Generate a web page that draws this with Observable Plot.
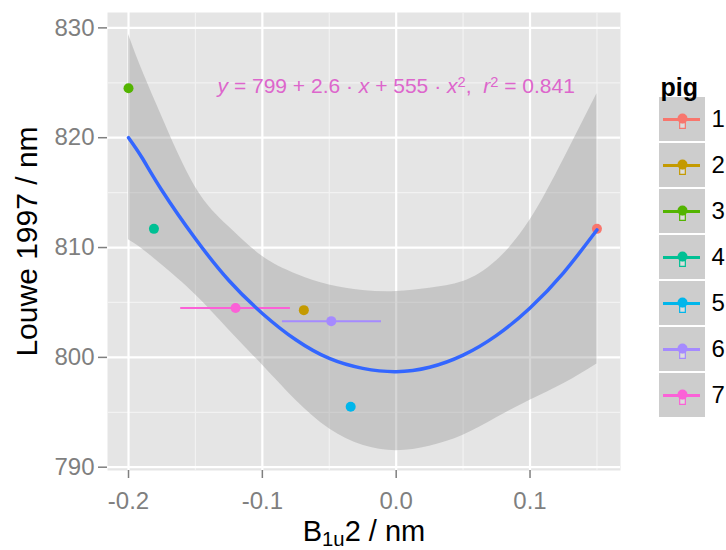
<!DOCTYPE html>
<html><head><meta charset="utf-8">
<script src="https://cdn.jsdelivr.net/npm/d3@7"></script>
<script src="https://cdn.jsdelivr.net/npm/@observablehq/plot@0.6"></script>
<style>
body{margin:0;background:#fff;}
#wrap{position:relative;width:726px;height:550px;}
#legend{position:absolute;left:655px;top:56px;}
</style></head><body><div id="wrap"><div id="legend"></div></div>
<script>
// ---- data ----
const pigs = ["1","2","3","4","5","6","7"];
const pigColors = ["#F8766D","#C49A00","#53B400","#00C094","#00B6EB","#A58AFF","#FB61D7"];
const pigX = [0.15, -0.069, -0.2, -0.181, -0.034, -0.0485, -0.120];
const pigY = [811.7, 804.3, 824.5, 811.7, 795.5, 803.3, 804.5];
const errPigs = ["6","7"];
const errMin = [-0.085, -0.161];
const errMax = [-0.011, -0.079];
const fitX  = [-0.2, -0.19, -0.175, -0.15, -0.125, -0.1, -0.075, -0.05, -0.025, 0, 0.025, 0.05, 0.075, 0.1, 0.125, 0.15];
const fitY  = [820.0, 818.2, 815.2, 810.8, 807.0, 804.0, 801.6, 799.9, 799.0, 798.7, 799.1, 800.2, 802.0, 804.5, 807.7, 811.6];
const fitLo = [810.7, 809.9, 808.4, 805.7, 802.5, 799.3, 796.1, 793.5, 792.0, 791.5, 791.9, 792.9, 794.5, 796.1, 797.6, 799.4];
const fitHi = [829.4, 826.2, 821.9, 815.5, 811.9, 809.2, 807.6, 806.6, 806.1, 806.0, 806.3, 806.9, 808.8, 812.5, 818.0, 824.0];
const xTicks = [-0.2, -0.1, 0, 0.1];
const xTickLabels = ["-0.2", "-0.1", "0.0", "0.1"];
const xMinor = [-0.15, -0.05, 0.05, 0.15];
const yTicks = [790, 800, 810, 820, 830];
const yTickLabels = ["790", "800", "810", "820", "830"];
const yMinor = [795, 805, 815, 825];
const xTitle = "B1u2 / nm";
const yTitle = "Louwe 1997 / nm";
const legendTitle = "pig";
const eqText = "y = 799 + 2.6 · x + 555 · x2,  r2 = 0.841";
const eqPos = [0, 824.7];

// ---- tables ----
const points = pigs.map((p, i) => ({pig: p, x: pigX[i], y: pigY[i]}));
const bars = errPigs.map((p, i) => ({pig: p, y: pigY[pigs.indexOf(p)], x1: errMin[i], x2: errMax[i]}));
const fit = fitX.map((x, i) => ({x, y: fitY[i], lo: fitLo[i], hi: fitHi[i]}));
const FONT = '"Liberation Sans", Arial, Helvetica, sans-serif';
const color = {domain: pigs, range: pigColors};

const main = Plot.plot({
  width: 726, height: 550,
  marginLeft: 107, marginRight: 106, marginTop: 12, marginBottom: 80,
  x: {domain: [-0.2157, 0.1676]},
  y: {domain: [789.7, 831.4]},
  color,
  style: {fontFamily: FONT, background: "white", color: "black"},
  marks: [
    Plot.frame({fill: "#E5E5E5"}),
    Plot.ruleX(xMinor, {stroke: "#F2F2F2", strokeWidth: 1.2}),
    Plot.ruleY(yMinor, {stroke: "#F2F2F2", strokeWidth: 1.2}),
    Plot.ruleX(xTicks, {stroke: "#FFFFFF", strokeWidth: 2.2}),
    Plot.ruleY(yTicks, {stroke: "#FFFFFF", strokeWidth: 2.2}),
    Plot.areaY(fit, {x: "x", y1: "lo", y2: "hi", fill: "#999999", fillOpacity: 0.4, curve: "natural"}),
    Plot.ruleY(bars, {y: "y", x1: "x1", x2: "x2", stroke: "pig", strokeWidth: 2}),
    Plot.dot(points, {x: "x", y: "y", fill: "pig", r: 5}),
    Plot.line(fit, {x: "x", y: "y", stroke: "#3366FF", strokeWidth: 3.5, curve: "natural"}),
    Plot.axisX({ticks: xTicks, tickFormat: d => xTickLabels[xTicks.indexOf(d)], tickSize: 8, tickPadding: 13,
      fontSize: 24, color: "#7F7F7F", stroke: "#7F7F7F", fill: "#7F7F7F", strokeWidth: 1.5, label: null}),
    Plot.axisY({ticks: yTicks, tickFormat: d => yTickLabels[yTicks.indexOf(d)], tickSize: 9, tickPadding: 4,
      fontSize: 24, color: "#7F7F7F", stroke: "#7F7F7F", fill: "#7F7F7F", strokeWidth: 1.5, label: null}),
    Plot.text([xTitle], {frameAnchor: "bottom", dy: 61, text: d => d, fontSize: 29, fill: "black",
      lineAnchor: "middle", textAnchor: "middle"}),
    Plot.text([yTitle], {frameAnchor: "left", dx: -80, rotate: -90, text: d => d, fontSize: 30, fill: "black",
      lineAnchor: "middle", textAnchor: "middle"}),
    Plot.text([eqText], {x: () => eqPos[0], y: () => eqPos[1], text: d => d, fontSize: 21, fill: "#DD66CC",
      lineAnchor: "middle", textAnchor: "middle"})
  ]
});

const legend = Plot.plot({
  width: 71, height: 366,
  marginLeft: 4, marginRight: 21, marginTop: 40, marginBottom: 4,
  y: {domain: pigs, axis: null, padding: 0},
  color,
  style: {fontFamily: FONT, background: "transparent", color: "black", overflow: "visible"},
  marks: [
    Plot.cell(pigs, {y: d => d, fill: "#CDCDCD", insetTop: 1, insetBottom: 1}),
    Plot.tickY(pigs, {y: d => d, stroke: d => d, strokeWidth: 3, insetLeft: 4, insetRight: 5}),
    Plot.dot(pigs, {y: d => d, stroke: d => d, fill: "#DDDDDD", symbol: "square", r: 3.2, dy: 6, strokeWidth: 1.2}),
    Plot.dot(pigs, {y: d => d, fill: d => d, r: 5, dy: -1}),
    Plot.text(pigs, {y: d => d, text: d => d, frameAnchor: "right", dx: 6, textAnchor: "start", fontSize: 24, fill: "black"}),
    Plot.text([legendTitle], {frameAnchor: "top-left", text: d => d, dx: 1, dy: -1, lineAnchor: "bottom",
      textAnchor: "start", fontSize: 25, fontWeight: "bold", fill: "black"})
  ]
});

document.getElementById("wrap").prepend(main);
document.getElementById("legend").append(legend);

// rich text (italic, super/subscripts)
function rich(el, parts) {
  const s = d3.select(el); s.text(null);
  for (const p of parts) {
    const t = s.append("tspan").text(p.t);
    if (p.i) t.attr("font-style", "italic");
    if (p.sup) t.attr("font-size", "70%").attr("baseline-shift", "40%");
    if (p.sub) t.attr("font-size", "70%").attr("baseline-shift", "-25%");
  }
}
main.querySelectorAll("text").forEach(el => {
  const c = el.textContent;
  if (c === xTitle) rich(el, [{t: "B"}, {t: "1u", sub: true}, {t: "2 / nm"}]);
  if (c === eqText) rich(el, [
    {t: "y", i: true}, {t: " = 799 + 2.6 · "}, {t: "x", i: true}, {t: " + 555 · "}, {t: "x", i: true},
    {t: "2", sup: true}, {t: ",  "}, {t: "r", i: true}, {t: "2", sup: true}, {t: " = 0.841"}]);
});
</script>
</body></html>
